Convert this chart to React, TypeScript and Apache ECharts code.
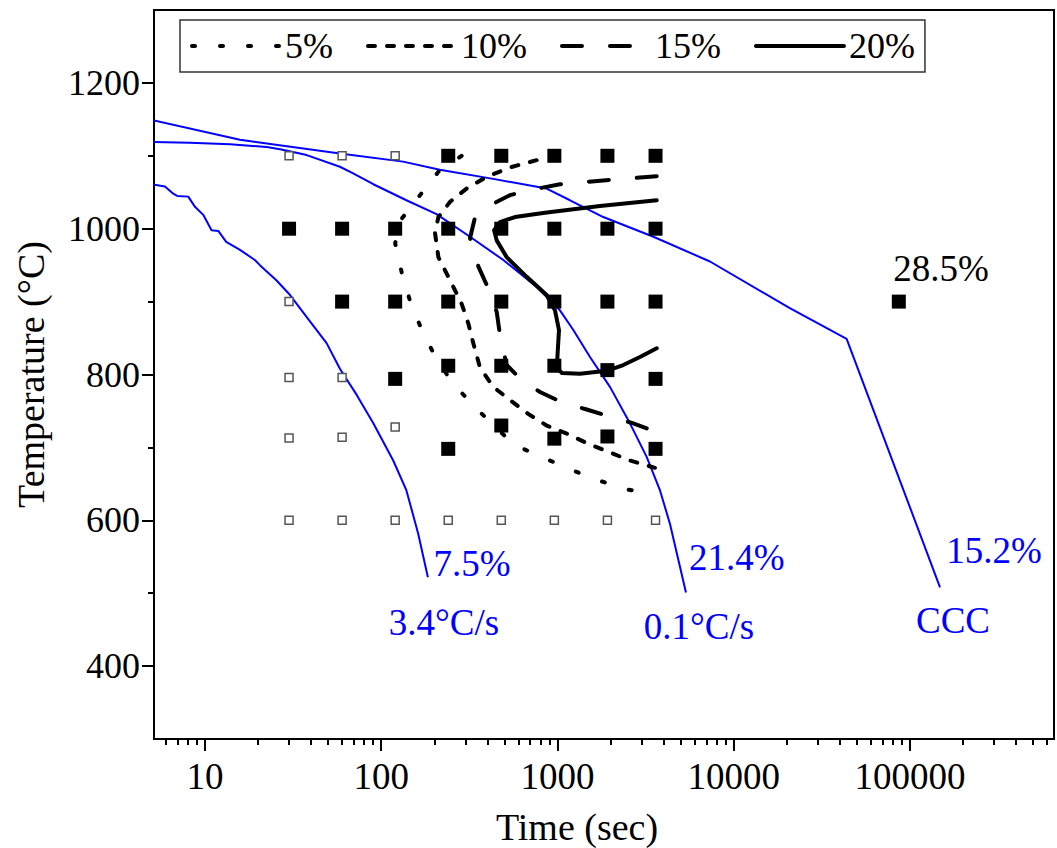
import React, { useEffect, useRef } from 'react';
import * as echarts from 'echarts';

const FONT = '"Liberation Serif", "Times New Roman", Times, serif';
const BLUE = '#0000ff';

// axis ticks
const xMajorTicks = [10, 100, 1000, 10000, 100000];
const xMinorTicks = [6, 7, 8, 9, 20, 30, 40, 50, 60, 70, 80, 90, 200, 300, 400, 500, 600, 700, 800, 900,
  2000, 3000, 4000, 5000, 6000, 7000, 8000, 9000, 20000, 30000, 40000, 50000, 60000, 70000, 80000, 90000,
  200000, 300000, 400000, 500000, 600000];
const yMajorTicks = [400, 600, 800, 1000, 1200];
const yMinorTicks = [500, 700, 900, 1100];

// samples [time s, temperature °C]
const openSamples = [[30, 1100], [60, 1100], [120, 1100], [30, 900], [30, 796], [60, 796], [30, 713], [60, 714], [120, 728],
  [30, 600], [60, 600], [120, 600], [240, 600], [480, 600], [960, 600], [1920, 600], [3600, 600]];
const filledSamples = [[240, 1100], [480, 1100], [960, 1100], [1920, 1100], [3600, 1100],
  [30, 1000], [60, 1000], [120, 1000], [240, 1000], [480, 1000], [960, 1000], [1920, 1000], [3600, 1000],
  [60, 900], [120, 900], [240, 900], [480, 900], [960, 900], [1920, 900], [3600, 900], [86400, 900],
  [120, 794], [240, 812], [480, 812], [960, 812], [1920, 806], [3600, 794],
  [240, 698], [480, 730], [960, 712], [1920, 715], [3600, 698]];

// cooling curves
const curve34 = [[5, 1061], [5.93, 1058], [6.61, 1048], [6.96, 1045], [8.04, 1044], [8.78, 1030], [9.78, 1019], [10.9, 998],
  [11.9, 997], [13.2, 982], [15.8, 971], [19.2, 957], [20.5, 950], [25.5, 929], [30.4, 909], [37.7, 879], [49, 843],
  [58.3, 808], [72.6, 772], [90.2, 733], [117, 682], [139, 641], [162, 582], [184, 522]];
const curve01 = [[5, 1119], [8.2, 1118], [13.9, 1116], [22.4, 1112], [26.7, 1109], [37.8, 1101], [58.3, 1085], [69.3, 1076],
  [90.2, 1061], [139, 1039], [206, 1020], [319, 989], [493, 957], [762, 920], [1033, 888], [1230, 861], [1529, 824],
  [1985, 783], [2577, 733], [3206, 687], [3817, 641], [4349, 595], [5357, 501]];
const curveCCC = [[5, 1149], [15.8, 1122], [58.3, 1103], [133, 1092], [215, 1081], [440, 1068], [868, 1055], [1178, 1039],
  [1820, 1016], [3500, 989], [7330, 955], [20800, 891], [43700, 849], [148000, 508]];

// transformation isopleths
const iso5 = [[286, 1100], [211, 1078], [166, 1046], [131, 1014], [120, 980], [131, 939], [146, 900], [170, 861], [202, 825],
  [254, 788], [333, 758], [433, 730], [574, 703], [813, 687], [1151, 671], [1652, 656], [2392, 643], [3573, 636]];
const iso10 = [[762, 1094], [537, 1084], [396, 1071], [305, 1055], [246, 1037], [211, 1016], [202, 994], [211, 961],
  [251, 925], [286, 897], [312, 870], [333, 843], [363, 810], [432, 783], [537, 765], [682, 746], [868, 730], [1128, 719],
  [1496, 705], [1943, 694], [2577, 682], [3573, 672]];
const iso15 = [[3656, 1072], [1985, 1067], [1033, 1061], [698, 1053], [537, 1046], [414, 1032], [340, 1015], [319, 987],
  [356, 948], [405, 918], [452, 886], [472, 854], [515, 813], [627, 792], [796, 776], [1057, 762], [1465, 752],
  [1943, 743], [2692, 733], [3656, 721]];
const iso20 = [[3656, 1039], [1742, 1031], [849, 1022], [574, 1016], [472, 1009], [437, 998], [452, 984], [515, 961],
  [669, 934], [868, 909], [968, 888], [1020, 861], [1000, 826], [994, 809], [1061, 802], [1343, 801], [1901, 805],
  [2362, 813], [2937, 824], [3656, 836]];

// annotations
const blueNotes = [
  { name: '7.5%', value: [327, 541] },
  { name: '3.4°C/s', value: [227, 460] },
  { name: '21.4%', value: [10400, 549] },
  { name: '0.1°C/s', value: [6350, 454] },
  { name: '15.2%', value: [300000, 559] },
  { name: 'CCC', value: [175400, 463] },
];
const blackNotes = [{ name: '28.5%', value: [150000, 946] }];

const X_MIN = 5.14;
const X_MAX = 656000;

const tickLine = { color: '#000', width: 2 };

function isoSeries(name: string, data: number[][], dash: number[] | 'solid') {
  return {
    name,
    type: 'line',
    data,
    symbol: 'none',
    showSymbol: false,
    z: 5,
    lineStyle: { color: '#000', width: 4, type: dash, cap: 'round', join: 'round' },
    itemStyle: { color: '#000' },
  };
}

function blueSeries(name: string, data: number[][]) {
  return {
    name,
    type: 'line',
    data,
    symbol: 'none',
    showSymbol: false,
    z: 2,
    lineStyle: { color: BLUE, width: 2 },
    itemStyle: { color: BLUE },
  };
}

export default function App() {
  const ref = useRef<HTMLDivElement>(null);
  useEffect(() => {
    if (!ref.current) return;
    const chart = echarts.init(ref.current, null, { renderer: 'svg' });
    const option: any = {
      animation: false,
      backgroundColor: '#fff',
      textStyle: { fontFamily: FONT },
      grid: {
        left: 154, top: 10, width: 900, height: 729,
        show: true, borderColor: '#000', borderWidth: 2,
        containLabel: false, outerBoundsMode: 'none',
      },
      legend: {
        data: ['5%', '10%', '15%', '20%'],
        left: 180, top: 20,
        itemWidth: 88, itemHeight: 14, itemGap: 33,
        padding: [8, 10],
        borderColor: '#333', borderWidth: 1.5,
        selectedMode: false,
        itemStyle: { opacity: 0 },
        lineStyle: { width: 4 },
        textStyle: { fontSize: 36, fontFamily: FONT, color: '#000' },
      },
      xAxis: [
        {
          type: 'log', min: X_MIN, max: X_MAX, position: 'bottom',
          axisLine: { show: true, lineStyle: tickLine },
          axisTick: { show: true, length: 12, lineStyle: tickLine, customValues: xMajorTicks },
          axisLabel: {
            customValues: xMajorTicks, fontSize: 37, fontFamily: FONT, color: '#000', margin: 19,
            formatter: (v: number) => String(Math.round(v)),
          },
          splitLine: { show: false }, minorTick: { show: false }, minorSplitLine: { show: false },
          name: 'Time (sec)', nameLocation: 'middle', nameGap: 69, nameMoveOverlap: false,
          nameTextStyle: { fontSize: 38, fontFamily: FONT, color: '#000', padding: [0, 54, 0, 0] },
        },
        {
          type: 'log', min: X_MIN, max: X_MAX, position: 'bottom',
          axisLine: { show: false },
          axisTick: { show: true, length: 6, lineStyle: tickLine, customValues: xMinorTicks },
          axisLabel: { show: false },
          splitLine: { show: false },
        },
      ],
      yAxis: [
        {
          type: 'value', min: 300, max: 1300, position: 'left',
          axisLine: { show: true, lineStyle: tickLine },
          axisTick: { show: true, length: 12, lineStyle: tickLine, customValues: yMajorTicks },
          axisLabel: {
            customValues: yMajorTicks, fontSize: 36, fontFamily: FONT, color: '#000', margin: 14,
            formatter: (v: number) => String(v),
          },
          splitLine: { show: false },
          name: 'Temperature (°C)', nameLocation: 'middle', nameGap: 104, nameMoveOverlap: false,
          nameTextStyle: { fontSize: 38, fontFamily: FONT, color: '#000' },
        },
        {
          type: 'value', min: 300, max: 1300, position: 'left',
          axisLine: { show: false },
          axisTick: { show: true, length: 6, lineStyle: tickLine, customValues: yMinorTicks },
          axisLabel: { show: false },
          splitLine: { show: false },
        },
      ],
      series: [
        blueSeries('3.4°C/s', curve34),
        blueSeries('0.1°C/s', curve01),
        blueSeries('CCC', curveCCC),
        {
          name: 'untransformed', type: 'scatter', data: openSamples, symbol: 'rect', symbolSize: 8, z: 3,
          itemStyle: { color: '#fff', borderColor: '#555', borderWidth: 1.5, opacity: 1 },
        },
        {
          name: 'transformed', type: 'scatter', data: filledSamples, symbol: 'rect', symbolSize: 14, z: 3,
          itemStyle: { color: '#000', opacity: 1 },
        },
        isoSeries('5%', iso5, [3, 25]),
        isoSeries('10%', iso10, [7, 12]),
        isoSeries('15%', iso15, [20, 28]),
        isoSeries('20%', iso20, 'solid'),
        {
          name: 'blueNotes', type: 'scatter', data: blueNotes, symbolSize: 1, z: 6,
          itemStyle: { color: 'transparent', opacity: 1 },
          label: {
            show: true, position: 'inside', formatter: '{b}',
            fontSize: 37, fontFamily: FONT, color: BLUE, opacity: 1,
          },
        },
        {
          name: 'blackNotes', type: 'scatter', data: blackNotes, symbolSize: 1, z: 6,
          itemStyle: { color: 'transparent', opacity: 1 },
          label: {
            show: true, position: 'inside', formatter: '{b}',
            fontSize: 37, fontFamily: FONT, color: '#000', opacity: 1,
          },
        },
      ],
    };
    chart.setOption(option);
    return () => chart.dispose();
  }, []);
  return (
    <div
      ref={ref}
      style={{ position: 'fixed', left: 0, top: 0, width: 1057, height: 848, background: '#fff' }}
    />
  );
}
